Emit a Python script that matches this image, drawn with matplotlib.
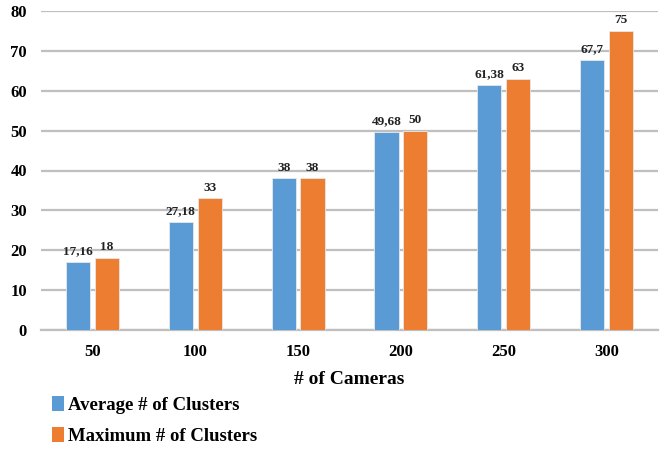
import matplotlib
matplotlib.use("Agg")
import matplotlib.pyplot as plt
import numpy as np
from matplotlib.patches import Patch

cameras = ["50", "100", "150", "200", "250", "300"]
avg_clusters = [17.16, 27.18, 38, 49.68, 61.38, 67.7]
max_clusters = [18, 33, 38, 50, 63, 75]
series_names = ["Average # of Clusters", "Maximum # of Clusters"]
colors = ["#5B9BD5", "#ED7D31"]
yticks = [0, 10, 20, 30, 40, 50, 60, 70, 80]

plt.rcParams["font.family"] = ["Liberation Serif", "DejaVu Serif"]
plt.rcParams["font.weight"] = "bold"

fig = plt.figure(figsize=(6.63, 4.49), dpi=100)
ax = fig.add_axes([41 / 663, 1 - 330 / 449, 617 / 663, 319 / 449])

x = np.arange(len(cameras))
w = 0.235
off = 0.14


def fmt(v):
    s = f"{v:g}"
    return s.replace(".", ",")


for vals, col, sgn in [(avg_clusters, colors[0], -1), (max_clusters, colors[1], 1)]:
    bars = ax.bar(x + sgn * off, vals, width=w, color=col, edgecolor="#E8E8E8",
                  linewidth=0.6, zorder=3)
    for b, v in zip(bars, vals):
        ax.text(b.get_x() + b.get_width() / 2, v + 1.2, fmt(v), ha="center",
                va="bottom", fontsize=9.5, fontweight="bold", color="#222222")

ax.set_xlim(-0.5, len(cameras) - 0.5)
ax.set_ylim(0, 80)
ax.set_yticks(yticks)
ax.set_xticks(x)
ax.set_xticklabels(cameras)
ax.tick_params(axis="both", length=0, labelsize=12)
ax.tick_params(axis="x", pad=10)
ax.tick_params(axis="y", pad=10)
for lab in ax.get_xticklabels() + ax.get_yticklabels():
    lab.set_fontweight("bold")
ax.grid(axis="y", color="#BFBFBF", linewidth=1.6, zorder=0)
for s in ["top", "right", "left"]:
    ax.spines[s].set_visible(False)
ax.spines["bottom"].set_color("#BFBFBF")
ax.spines["bottom"].set_linewidth(1.6)
ax.set_xlabel("# of Cameras", fontsize=14, fontweight="bold", labelpad=8)

handles = [Patch(facecolor=c, edgecolor="none") for c in colors]
fig.legend(handles, series_names, loc="upper left", bbox_to_anchor=(35 / 663, 1 - 379 / 449),
           frameon=False, handlelength=0.65, handleheight=0.85,
           handletextpad=0.2, labelspacing=0.7, prop={"weight": "bold", "size": 13.5})

fig.savefig("out.png", dpi=100)
